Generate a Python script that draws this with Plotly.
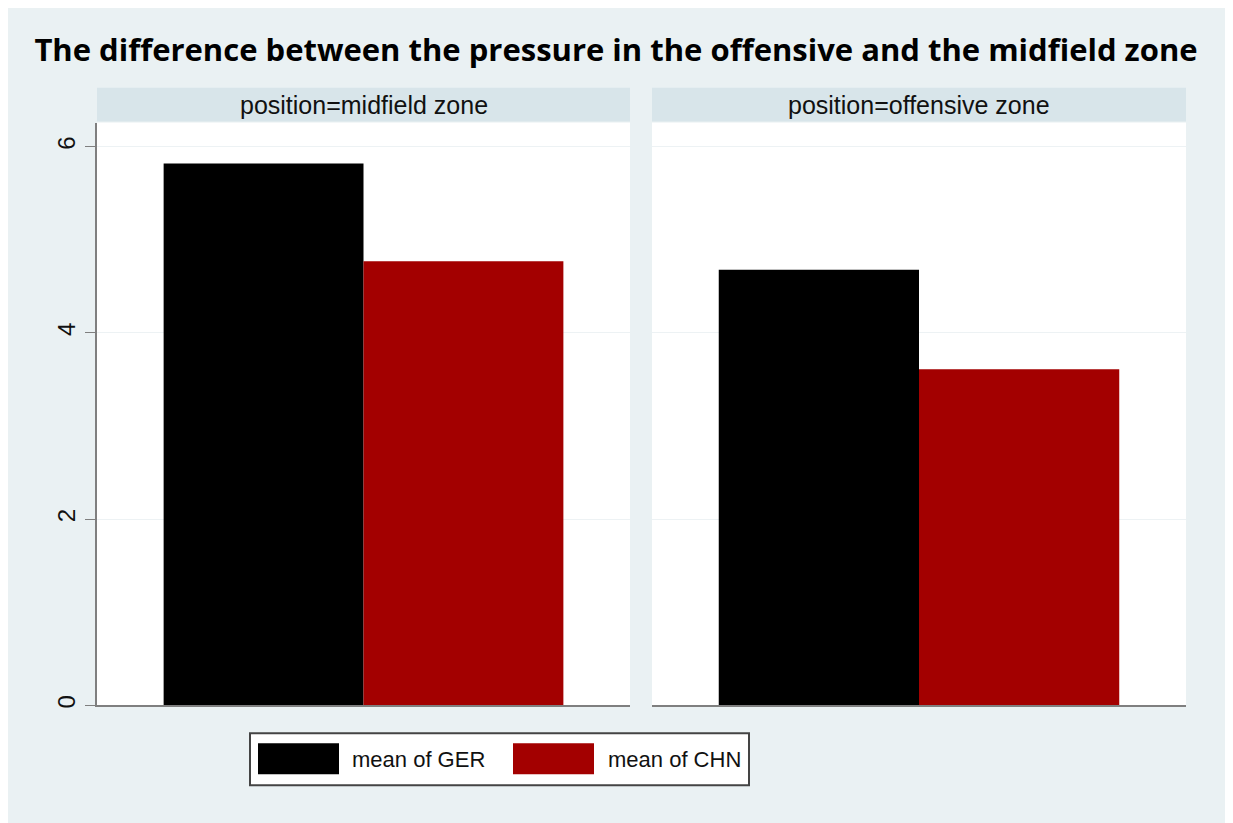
import plotly.graph_objects as go
from plotly.subplots import make_subplots

zones = ["midfield zone", "offensive zone"]
series = ["mean of GER", "mean of CHN"]
ger_values = [5.82, 4.68]
chn_values = [4.77, 3.61]
y_ticks = [0, 2, 4, 6]

colors = ["#000000", "#A30000"]
# page body has an 8px margin, so the figure is a bit smaller than the window
OFF = 8
W, H = 1233 - OFF, 823 - OFF


def px_x(v):
    return (v - OFF) / W


def px_y(v):
    return 1 - (v - OFF) / H


fig = make_subplots(rows=1, cols=2, shared_yaxes=True, horizontal_spacing=0.0)

for i, zone in enumerate(zones):
    for name, vals, col in zip(series, [ger_values, chn_values], colors):
        fig.add_trace(
            go.Bar(
                x=[zone],
                y=[vals[i]],
                name=name,
                marker=dict(color=col, line=dict(width=0)),
                showlegend=False,
            ),
            row=1, col=i + 1
        )

ydom = [px_y(708), px_y(123)]

fig.update_layout(
    barmode="group",
    bargap=0.25,
    bargroupgap=0,
    width=W,
    height=H,
    margin=dict(l=0, r=0, t=0, b=0),
    paper_bgcolor="#EAF1F3",
    plot_bgcolor="white",
    font=dict(family="Liberation Sans, Arial", color="#111111"),
    title=dict(
        text="<b>The difference between the pressure in the offensive and the midfield zone</b>",
        x=px_x(616), xanchor="center",
        y=px_y(50), yanchor="middle",
        font=dict(family="Open Sans", size=31, color="#000000"),
    ),
    xaxis=dict(domain=[px_x(97), px_x(630)]),
    xaxis2=dict(domain=[px_x(652), px_x(1186)]),
    yaxis=dict(domain=ydom, range=[0, 6.26], tickvals=y_ticks,
               showgrid=True, gridcolor="#EDF2F4", gridwidth=1, zeroline=False,
               showline=True, linecolor="#7f7f7f", linewidth=2,
               ticks="outside", ticklen=10, tickcolor="#7f7f7f", tickwidth=1,
               tickangle=-90, tickfont=dict(size=24, color="#111111")),
    yaxis2=dict(domain=ydom, range=[0, 6.26], tickvals=y_ticks,
                showgrid=True, gridcolor="#EDF2F4", gridwidth=1, zeroline=False,
                showline=False, ticks="", showticklabels=False),
)

fig.update_xaxes(showticklabels=False, ticks="", showgrid=False,
                 showline=True, linecolor="#7f7f7f", linewidth=2, zeroline=False)

shapes = [
    # white strip and grey edge on the right
    dict(type="rect", xref="paper", yref="paper", x0=px_x(1229), x1=1,
         y0=0, y1=1, fillcolor="white", line=dict(width=0)),
    dict(type="line", xref="paper", yref="paper", x0=px_x(1229), x1=px_x(1229),
         y0=0, y1=1, line=dict(color="#A8A8A8", width=2)),
]
annotations = []

# facet header strips
panel_x = [(97, 630), (652, 1186)]
for zone, (a, b) in zip(zones, panel_x):
    shapes.append(dict(type="rect", xref="paper", yref="paper",
                       x0=px_x(a), x1=px_x(b), y0=px_y(122), y1=px_y(88),
                       fillcolor="#D8E5EA", line=dict(width=0)))
    annotations.append(dict(text="position=" + zone, xref="paper", yref="paper",
                            x=px_x((a + b) / 2), y=px_y(105), showarrow=False,
                            xanchor="center", yanchor="middle",
                            font=dict(size=25, color="#111111")))

# legend box
shapes.append(dict(type="rect", xref="paper", yref="paper",
                   x0=px_x(250), x1=px_x(749), y0=px_y(788), y1=px_y(736),
                   fillcolor="white", line=dict(color="#444444", width=2)))
legend_items = [(258, 339, 350), (513, 594, 606)]
for name, col, (s0, s1, tx) in zip(series, colors, legend_items):
    shapes.append(dict(type="rect", xref="paper", yref="paper",
                       x0=px_x(s0), x1=px_x(s1), y0=px_y(777), y1=px_y(746),
                       fillcolor=col, line=dict(width=0)))
    annotations.append(dict(text=name, xref="paper", yref="paper",
                            x=px_x(tx), y=px_y(762), showarrow=False,
                            xanchor="left", yanchor="middle",
                            font=dict(size=22, color="#111111")))

fig.update_layout(shapes=shapes, annotations=annotations)

fig.write_html("out.html")
